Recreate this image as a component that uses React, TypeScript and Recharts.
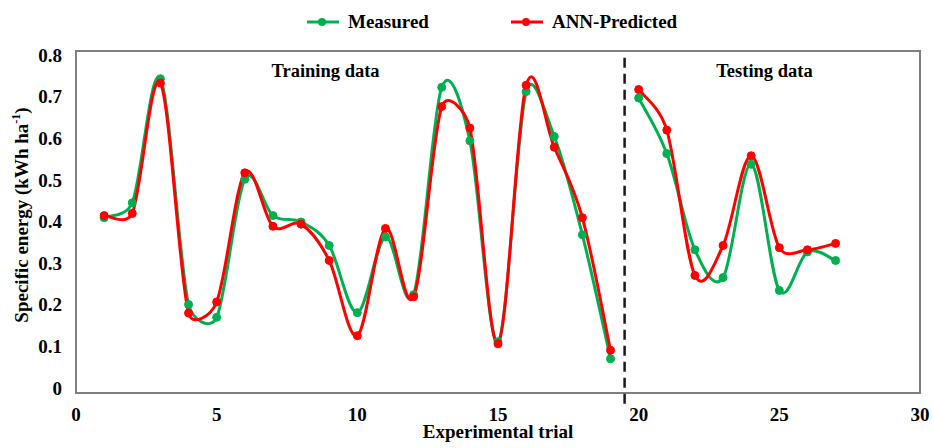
import { LineChart, Line, XAxis, YAxis, ReferenceLine, ReferenceArea, ReferenceDot } from 'recharts';

const trials = [1, 2, 3, 4, 5, 6, 7, 8, 9, 10, 11, 12, 13, 14, 15, 16, 17, 18, 19, 20, 21, 22, 23, 24, 25, 26, 27];
const measured = [
  0.41, 0.445, 0.735, 0.207, 0.177, 0.5, 0.415, 0.4, 0.345, 0.188, 0.365, 0.23, 0.715, 0.59, 0.12, 0.705, 0.6,
  0.37, 0.08, 0.69, 0.56, 0.335, 0.27, 0.535, 0.24, 0.33, 0.31,
];
const predicted = [
  0.415, 0.42, 0.725, 0.187, 0.213, 0.515, 0.39, 0.395, 0.31, 0.134, 0.385, 0.225, 0.67, 0.62, 0.115, 0.72, 0.575,
  0.41, 0.1, 0.71, 0.615, 0.275, 0.345, 0.555, 0.34, 0.335, 0.35,
];
// last trial of the training set; the testing set starts after it
const lastTraining = 19;
const splitAt = 19.5;
const xTicks = [0, 5, 10, 15, 20, 25, 30];
const yTicks = [0, 0.1, 0.2, 0.3, 0.4, 0.5, 0.6, 0.7, 0.8];

const rows = trials.map((t, i) => ({ trial: t, measured: measured[i], predicted: predicted[i] }));
// a null row between the two sets breaks both lines there
const data = [
  ...rows.filter((r) => r.trial <= lastTraining),
  { trial: splitAt, measured: null, predicted: null },
  ...rows.filter((r) => r.trial > lastTraining),
];

const FONT = '"Liberation Serif", "Times New Roman", serif';
const GREEN = '#00b050';
const RED = '#ff0000';

// Excel-like smoothed line: Catmull-Rom bezier, with control arms capped at half the segment
function smoothCurve(context: any) {
  let pts: number[][] = [];
  const dist = (a: number[], b: number[]) => Math.hypot(b[0] - a[0], b[1] - a[1]);
  const arm = (from: number[], to: number[], seg: number) => {
    let dx = (to[0] - from[0]) / 6;
    let dy = (to[1] - from[1]) / 6;
    const len = Math.hypot(dx, dy);
    const max = seg * 0.5;
    if (len > max && len > 0) {
      dx *= max / len;
      dy *= max / len;
    }
    return [dx, dy];
  };
  return {
    areaStart() {},
    areaEnd() {},
    lineStart() {
      pts = [];
    },
    point(x: number, y: number) {
      pts.push([+x, +y]);
    },
    lineEnd() {
      const n = pts.length;
      if (!n) return;
      context.moveTo(pts[0][0], pts[0][1]);
      for (let i = 0; i < n - 1; i++) {
        const p0 = pts[Math.max(i - 1, 0)];
        const p1 = pts[i];
        const p2 = pts[i + 1];
        const p3 = pts[Math.min(i + 2, n - 1)];
        const seg = dist(p1, p2);
        const a1 = arm(p0, p2, seg);
        const a2 = arm(p1, p3, seg);
        context.bezierCurveTo(p1[0] + a1[0], p1[1] + a1[1], p2[0] - a2[0], p2[1] - a2[1], p2[0], p2[1]);
      }
    },
  };
}

function LegendItem({ color, label }: { color: string; label: string }) {
  return (
    <div style={{ display: 'flex', alignItems: 'center', gap: 9 }}>
      <svg width={32} height={10}>
        <line x1={0} y1={5} x2={32} y2={5} stroke={color} strokeWidth={3} />
        <circle cx={15} cy={5} r={4} fill={color} />
      </svg>
      <span>{label}</span>
    </div>
  );
}

const tickStyle = { fontSize: 19, fontWeight: 700, fill: '#000', fontFamily: FONT };
const noteStyle = { fontSize: 18.5, fontWeight: 700, fill: '#000', fontFamily: FONT };

// y labels in the original sit a little closer together than the gridlines
function YTick({ x, y, payload }: any) {
  const shift = 4 - ((y - 51) / 342) * 9;
  const v = payload.value;
  return (
    <text x={x} y={y + shift} dy="0.355em" textAnchor="end" {...tickStyle}>
      {v === 0 ? '0' : v.toFixed(1)}
    </text>
  );
}

export default function App() {
  return (
    <div style={{ position: 'absolute', left: 0, top: 0, width: 933, height: 448, background: '#fff' }}>
      <div
        style={{
          position: 'absolute',
          left: 307,
          top: 11,
          display: 'flex',
          alignItems: 'center',
          gap: 82,
          fontFamily: FONT,
          fontWeight: 700,
          fontSize: 19,
          color: '#000',
          zIndex: 2,
        }}
      >
        <LegendItem color={GREEN} label="Measured" />
        <LegendItem color={RED} label="ANN-Predicted" />
      </div>
      <LineChart width={933} height={448} data={data} margin={{ top: 51, right: 13, left: 0, bottom: 0 }}>
        <XAxis
          dataKey="trial"
          type="number"
          domain={[0, 30]}
          ticks={xTicks}
          axisLine={false}
          tickLine={false}
          tickMargin={9}
          tick={tickStyle}
          height={55}
          label={{
            value: 'Experimental trial',
            position: 'insideBottom',
            offset: 0,
            dy: -10,
            style: { fontSize: 19, fontWeight: 700, fill: '#000', fontFamily: FONT },
          }}
        />
        <YAxis
          type="number"
          domain={[0, 0.8]}
          ticks={yTicks}
          axisLine={false}
          tickLine={false}
          tickMargin={8}
          width={76}
          tick={<YTick />}
          label={() => (
            <text
              x={28}
              y={215}
              transform="rotate(-90, 28, 215)"
              textAnchor="middle"
              fontSize={19}
              fontWeight={700}
              fontFamily={FONT}
              fill="#000"
            >
              Specific energy (kWh ha
              <tspan dy={-8} fontSize={12}>
                -1
              </tspan>
              <tspan dy={8}>)</tspan>
            </text>
          )}
        />
        <ReferenceArea x1={0} x2={30} y1={0} y2={0.8} fill="none" stroke="#7f7f7f" strokeWidth={2} />
        <ReferenceLine
          segment={[
            { x: splitAt, y: -0.025 },
            { x: splitAt, y: 0.786 },
          ]}
          ifOverflow="visible"
          stroke="#1a1a1a"
          strokeWidth={2.5}
          strokeDasharray="10 6"
        />
        <ReferenceDot
          x={8.87}
          y={0.754}
          r={0}
          fill="none"
          stroke="none"
          label={{ value: 'Training data', position: 'center', style: noteStyle }}
        />
        <ReferenceDot
          x={24.47}
          y={0.754}
          r={0}
          fill="none"
          stroke="none"
          label={{ value: 'Testing data', position: 'center', style: noteStyle }}
        />
        <Line
          dataKey="measured"
          name="Measured"
          type={smoothCurve as any}
          stroke={GREEN}
          strokeWidth={3}
          dot={{ r: 4, fill: GREEN, stroke: GREEN, strokeWidth: 1 }}
          activeDot={false}
          connectNulls={false}
          isAnimationActive={false}
        />
        <Line
          dataKey="predicted"
          name="ANN-Predicted"
          type={smoothCurve as any}
          stroke={RED}
          strokeWidth={3}
          dot={{ r: 4, fill: RED, stroke: RED, strokeWidth: 1 }}
          activeDot={false}
          connectNulls={false}
          isAnimationActive={false}
        />
      </LineChart>
    </div>
  );
}
